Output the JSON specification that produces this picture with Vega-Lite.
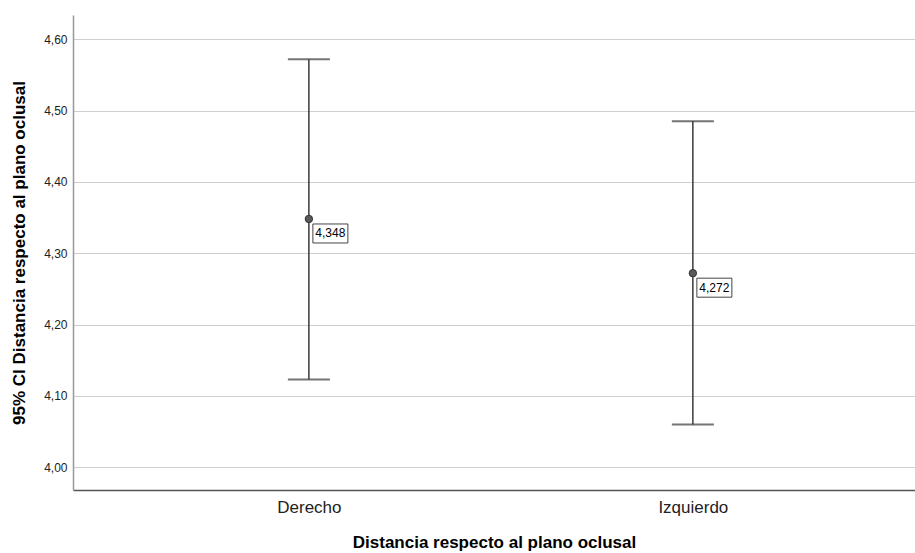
{
  "$schema": "https://vega.github.io/schema/vega-lite/v6.json",
  "autosize": "none",
  "width": 842,
  "height": 475,
  "padding": {"left": 73, "top": 15, "right": 0, "bottom": 63},
  "background": "white",
  "config": {"view": {"stroke": null}, "font": "Liberation Sans"},
  "data": {"values": [
    {"lado": "Derecho", "mean": 4.348, "lower": 4.123, "upper": 4.572, "label": "4,348"},
    {"lado": "Izquierdo", "mean": 4.272, "lower": 4.060, "upper": 4.485, "label": "4,272"}
  ]},
  "encoding": {
    "x": {"field": "lado", "type": "nominal",
      "scale": {"type": "point", "padding": 0.5964, "align": 0.515},
      "axis": {"title": "Distancia respecto al plano oclusal", "titleFont": "Liberation Sans", "titleFontSize": 17, "titleFontWeight": "bold", "titleColor": "#000", "titlePadding": 19,
        "labelAngle": 0, "labelFontSize": 17, "labelColor": "#222", "labelPadding": 9, "ticks": false, "domainColor": "#555", "domainWidth": 1.5, "grid": false}},
    "y": {"type": "quantitative"}
  },
  "layer": [
    {
      "mark": {"type": "rule", "color": "#3a3a3a", "strokeWidth": 1.5},
      "encoding": {
        "y": {"field": "lower", "type": "quantitative",
          "scale": {"domain": [3.968, 4.634], "nice": false, "zero": false},
          "axis": {"title": "95% CI Distancia respecto al plano oclusal", "titleFontSize": 17, "titleFontWeight": "bold", "titleColor": "#000", "titlePadding": 15,
            "values": [4.0, 4.1, 4.2, 4.3, 4.4, 4.5, 4.6],
            "labelExpr": "replace(format(datum.value, '.2f'), '.', ',')",
            "labelFontSize": 12, "labelColor": "#222", "labelPadding": 6, "ticks": false,
            "domainColor": "#999", "domainWidth": 1.5, "grid": true, "gridColor": "#cfcfcf", "gridWidth": 1.2}},
        "y2": {"field": "upper"}
      }
    },
    {
      "mark": {"type": "tick", "color": "#3a3a3a", "size": 42, "thickness": 2},
      "encoding": {"y": {"field": "upper", "type": "quantitative"}}
    },
    {
      "mark": {"type": "tick", "color": "#3a3a3a", "size": 42, "thickness": 2},
      "encoding": {"y": {"field": "lower", "type": "quantitative"}}
    },
    {
      "mark": {"type": "point", "filled": true, "size": 55, "color": "#5a5a5a", "stroke": "#333", "strokeWidth": 1, "opacity": 1},
      "encoding": {"y": {"field": "mean", "type": "quantitative"}}
    },
    {
      "mark": {"type": "rect", "fill": "white", "stroke": "#444", "strokeWidth": 1, "xOffset": 4, "x2Offset": 39, "yOffset": 5, "y2Offset": 24},
      "encoding": {
        "x2": {"field": "lado"},
        "y": {"field": "mean", "type": "quantitative"},
        "y2": {"field": "mean"}
      }
    },
    {
      "mark": {"type": "text", "fontSize": 12, "color": "#000", "align": "center", "baseline": "middle", "dx": 21.5, "dy": 14.5},
      "encoding": {
        "y": {"field": "mean", "type": "quantitative"},
        "text": {"field": "label"}
      }
    }
  ]
}
